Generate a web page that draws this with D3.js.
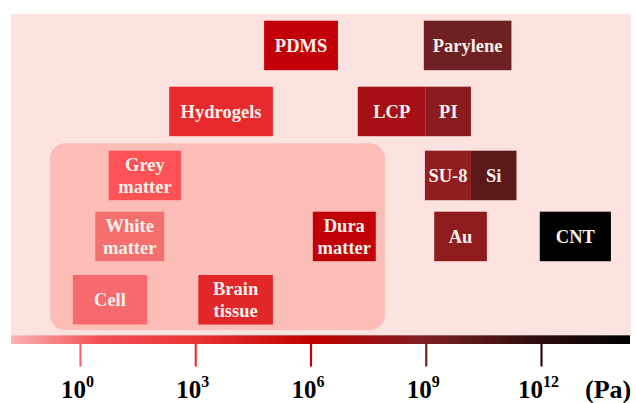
<!DOCTYPE html>
<html><head><meta charset="utf-8">
<script src="https://cdn.jsdelivr.net/npm/d3@7"></script>
<style>html,body{margin:0;padding:0;background:#fff}svg{display:block}
svg text{font-family:"Liberation Serif","Times New Roman",Times,"DejaVu Serif",serif;font-weight:bold}</style>
</head><body><svg id="c" width="636" height="403"></svg>
<script>
// ---- data ----
const materials = ["PDMS","Parylene","Hydrogels","LCP","PI","Grey matter","White matter","Dura matter","Cell","Brain tissue","SU-8","Si","Au","CNT"];
const rowOf     = ["r1","r1","r2","r2","r2","r3","r4","r4","r5","r5","r3","r3","r4","r4"];
const lowPa     = [6.2e4, 8.9e8, 2.1e2, 1.7e7, 1e9, 5.6, 2.5, 1.15e6, 0.65, 1.2e3, 9.5e8, 1.5e10, 1.66e9, 9.3e11];
const highPa    = [5.2e6, 1.7e11, 1.05e5, 1e9, 1.5e10, 4.3e2, 1.55e2, 5.0e7, 56, 1.05e5, 1.5e10, 2.3e11, 3.9e10, 6.6e13];
const fills     = ["#c2000a","#6e2022","#e8292e","#a50f15","#8a1c1f","#ff5257","#f4706f","#c10008","#f6696c","#e2272b","#911d20","#5a1819","#8e1b1e","#000000"];
const rows      = ["r1","r2","r3","r4","r5"];
const tissueRange = [0.166, 8.7e7];
const tickValues = [1e0, 1e3, 1e6, 1e9, 1e12];
const tickExps   = ["0","3","6","9","12"];
const unitLabel  = "(Pa)";
const gradLogs   = [-1.8, 0.5, 3, 6, 9, 12, 14.3];
const gradColors = ["#fbb4b4","#f24f54","#ea3434","#c20000","#7c2022","#2c0c0c","#000000"];

// ---- layout ----
const svg = d3.select("#c");
const x = d3.scaleLog().domain([1, 1e12]).range([80, 541]);
const y = d3.scaleOrdinal().domain(rows).range([20.7, 86.7, 150.7, 211.7, 275]);
const boxH = 49.5;
const colorAt = d3.scaleLinear().domain(gradLogs).range(gradColors).interpolate(d3.interpolateRgb);

svg.append("rect").attr("x", 11).attr("y", 14).attr("width", 620).attr("height", 321).attr("fill", "#fde3e0");

svg.append("rect")
  .attr("x", x(tissueRange[0])).attr("y", 143.3)
  .attr("width", x(tissueRange[1]) - x(tissueRange[0])).attr("height", 186.7)
  .attr("rx", 15).attr("ry", 15).attr("fill", "#fdbdb7");

const data = materials.map((m, i) => ({name: m, row: rowOf[i], lo: lowPa[i], hi: highPa[i], fill: fills[i]}));
const g = svg.append("g").selectAll("g").data(data).join("g");
g.append("rect")
  .attr("x", d => x(d.lo)).attr("y", d => y(d.row))
  .attr("width", d => x(d.hi) - x(d.lo)).attr("height", boxH)
  .attr("fill", d => d.fill);
g.each(function(d) {
  const words = d.name.split(" ");
  const cx = (x(d.lo) + x(d.hi)) / 2;
  const cy = y(d.row) + boxH / 2;
  const t = d3.select(this).append("text")
    .attr("text-anchor", "middle")
    .attr("font-size", 18.5)
    .attr("fill", "#f8f1ea");
  if (words.length === 1) {
    t.attr("x", cx).attr("y", cy + 6.3).text(d.name);
  } else {
    words.forEach((w, k) => {
      t.append("tspan").attr("x", cx).attr("y", cy + 6.3 + (k - 0.5) * 21.5).text(w);
    });
  }
});

const defs = svg.append("defs");
const lg = defs.append("linearGradient").attr("id", "bar").attr("gradientUnits", "userSpaceOnUse")
  .attr("x1", 11).attr("x2", 630).attr("y1", 0).attr("y2", 0);
gradLogs.forEach((l, i) => {
  lg.append("stop").attr("offset", (x(Math.pow(10, l)) - 11) / (630 - 11)).attr("stop-color", gradColors[i]);
});
svg.append("rect").attr("x", 11).attr("y", 335.3).attr("width", 619).attr("height", 8.7).attr("fill", "url(#bar)");

const axis = d3.axisBottom(x).tickValues(tickValues).tickSize(22.5).tickSizeOuter(0).tickFormat(() => "");
const ag = svg.append("g").attr("transform", "translate(0,344)").call(axis);
ag.select(".domain").remove();
ag.selectAll(".tick line")
  .attr("stroke", d => colorAt(Math.log10(d)))
  .attr("stroke-width", 2.2);
ag.selectAll(".tick text").remove();
ag.selectAll(".tick").each(function(d, i) {
  const t = d3.select(this).append("text")
    .attr("x", -3).attr("y", 53.5)
    .attr("text-anchor", "middle")
    .attr("font-size", 25).attr("fill", "#000");
  t.append("tspan").text("10");
  t.append("tspan").attr("dy", -11).attr("font-size", 16).text(tickExps[i]);
});
svg.append("text")
  .attr("x", 585).attr("y", 397.5)
  .attr("font-size", 26).attr("fill", "#000")
  .text(unitLabel);
</script></body></html>
